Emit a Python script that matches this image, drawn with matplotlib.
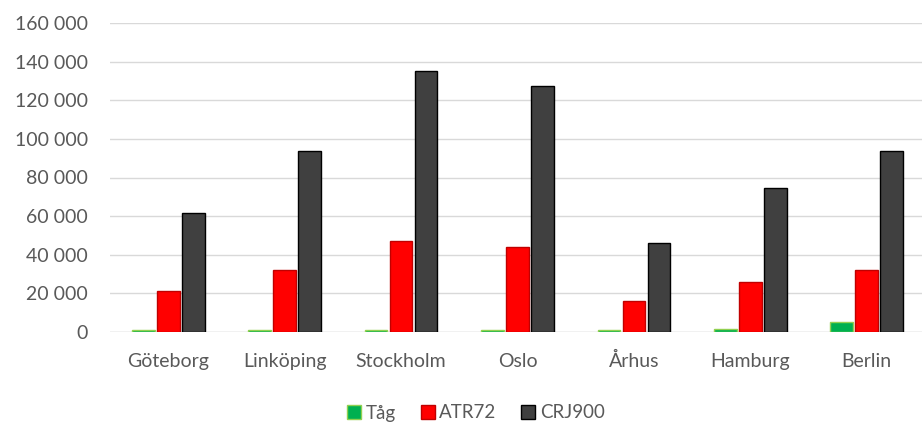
import matplotlib
matplotlib.use("Agg")
import matplotlib.pyplot as plt
import numpy as np
from matplotlib.ticker import FuncFormatter

categories = ["Göteborg", "Linköping", "Stockholm", "Oslo", "Århus", "Hamburg", "Berlin"]
tag = [900, 900, 900, 900, 800, 1800, 5200]
atr72 = [21000, 32000, 47000, 44000, 16000, 26000, 32000]
crj900 = [61500, 93500, 135000, 127500, 46000, 74500, 93500]
series_names = ["Tåg", "ATR72", "CRJ900"]

plt.rcParams['font.family'] = ['Lato', 'DejaVu Sans']

fig = plt.figure(figsize=(9.22, 4.25), dpi=100)
ax = fig.add_axes([110/922, 1-332/425, 815/922, (332-23)/425])

x = np.arange(len(categories))
w = 0.195
off = 0.215
ax.bar(x - off, tag, w, color="#00B050", edgecolor="#92D050", linewidth=1, label=series_names[0], zorder=3)
ax.bar(x, atr72, w, color="#FF0000", edgecolor="#C00000", linewidth=1, label=series_names[1], zorder=3)
ax.bar(x + off, crj900, w, color="#404040", edgecolor="#000000", linewidth=1, label=series_names[2], zorder=3)

ax.set_xlim(-0.5, len(categories) - 0.5)
ax.set_ylim(0, 160000)
ax.set_yticks(np.arange(0, 160001, 20000))
ax.yaxis.set_major_formatter(FuncFormatter(lambda v, p: f"{int(v):,}".replace(",", " ")))
ax.set_xticks(x)
ax.set_xticklabels(categories)
ax.grid(axis='y', color="#D9D9D9", linewidth=1, zorder=0)
for s in ax.spines.values():
    s.set_visible(False)
ax.axhline(0, color="#D9D9D9", linewidth=1, zorder=1)
ax.tick_params(axis='both', length=0, labelsize=14, labelcolor="#595959")
ax.tick_params(axis='y', pad=16)
ax.tick_params(axis='x', pad=25)
for lab in ax.get_xticklabels():
    lab.set_verticalalignment('baseline')

leg = fig.legend(loc="center", bbox_to_anchor=(476/922, 1-413/425), ncol=3, frameon=False,
                 fontsize=13.5, handlelength=0.75, handleheight=0.75, handletextpad=0.25, columnspacing=1.3)
for t in leg.get_texts():
    t.set_color("#595959")

fig.savefig("out.png", dpi=100)
